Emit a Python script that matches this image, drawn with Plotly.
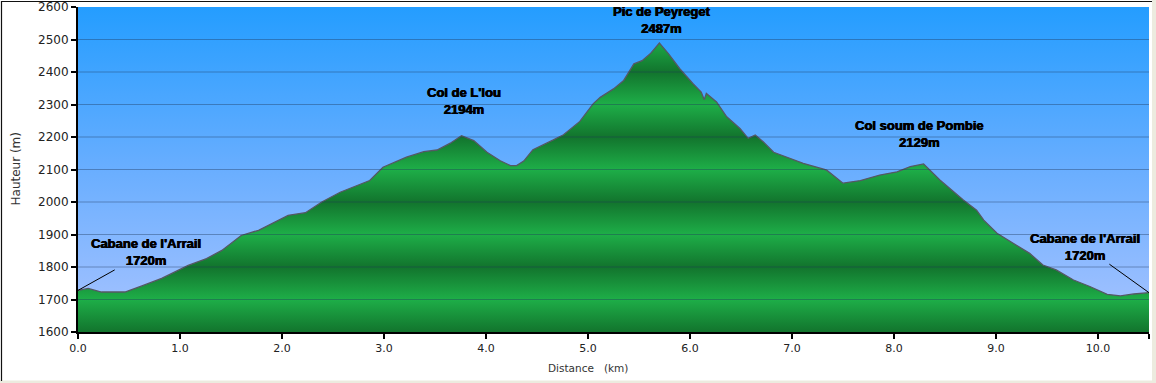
import plotly.graph_objects as go

# ---------------- data ----------------
distance_km = [0.00, 0.10, 0.23, 0.46, 0.62, 0.82, 1.08, 1.26, 1.41, 1.60, 1.77, 1.93,
               2.06, 2.23, 2.39, 2.57, 2.72, 2.86, 2.99, 3.09, 3.22, 3.39, 3.52, 3.65,
               3.76, 3.88, 4.01, 4.14, 4.24, 4.30, 4.37, 4.46, 4.55, 4.66, 4.76, 4.92,
               5.05, 5.12, 5.25, 5.35, 5.45, 5.53, 5.61, 5.70, 5.79, 5.90, 6.03, 6.11,
               6.14, 6.16, 6.26, 6.36, 6.49, 6.57, 6.64, 6.72, 6.82, 6.98, 7.11, 7.31,
               7.34, 7.50, 7.67, 7.86, 8.03, 8.16, 8.29, 8.45, 8.58, 8.68, 8.81, 8.88,
               9.01, 9.17, 9.33, 9.46, 9.59, 9.76, 9.92, 10.09, 10.22, 10.35, 10.50]
altitude_m = [1728, 1734, 1723, 1723, 1741, 1765, 1805, 1826, 1851, 1897, 1913, 1938,
              1959, 1967, 2000, 2030, 2048, 2066, 2107, 2121, 2138, 2155, 2160, 2181,
              2204, 2189, 2153, 2127, 2112, 2112, 2126, 2161, 2174, 2191, 2207, 2248,
              2302, 2322, 2348, 2374, 2425, 2435, 2456, 2489, 2456, 2410, 2364, 2338,
              2315, 2334, 2308, 2262, 2226, 2196, 2206, 2185, 2153, 2135, 2119, 2101,
              2098, 2058, 2066, 2083, 2093, 2109, 2117, 2068, 2032, 2006, 1975, 1944,
              1904, 1873, 1842, 1806, 1791, 1760, 1740, 1716, 1711, 1717, 1721]

x_tick_vals = [0, 1, 2, 3, 4, 5, 6, 7, 8, 9, 10, 10.5]
x_tick_text = ["0.0", "1.0", "2.0", "3.0", "4.0", "5.0", "6.0", "7.0", "8.0", "9.0", "10.0", "10.5"]
y_tick_vals = [1600, 1700, 1800, 1900, 2000, 2100, 2200, 2300, 2400, 2500, 2600]

label_names = ["Cabane de l'Arrail", "Col de L'lou", "Pic de Peyreget", "Col soum de Pombie", "Cabane de l'Arrail"]
label_alts = [1720, 2194, 2487, 2129, 1720]

x_range = [0, 10.5]
y_range = [1600, 2600]

# ---------------- layout geometry ----------------
W, H = 1156, 383
ML, MR, MT, MB = 78, 7, 7, 51

fig = go.Figure()

# sky gradient background
fig.add_trace(go.Scatter(
    x=[x_range[0], x_range[1], x_range[1], x_range[0], x_range[0]],
    y=[y_range[0], y_range[0], y_range[1], y_range[1], y_range[0]],
    fill="toself", mode="none", hoverinfo="skip", showlegend=False,
    fillgradient=dict(type="vertical", start=y_range[0], stop=y_range[1],
                      colorscale=[[0, "rgb(170,196,255)"], [0.5, "rgb(105,174,255)"],
                                  [1, "rgb(36,157,255)"]]),
))

# banded green gradient for the terrain
dark, light = "rgb(18,116,45)", "rgb(30,174,72)"
bands = []
n = len(y_tick_vals) - 1
for i in range(n + 1):
    bands.append([i / n, dark if i % 2 == 0 else light])

fig.add_trace(go.Scatter(
    x=distance_km, y=altitude_m, mode="lines", fill="tozeroy",
    line=dict(color="rgb(85,88,100)", width=1.3),
    fillgradient=dict(type="vertical", start=y_range[0], stop=y_range[1], colorscale=bands),
    hoverinfo="x+y", showlegend=False,
))

shapes = []
# grid lines above the fill
for v in y_tick_vals[1:-1]:
    shapes.append(dict(type="line", xref="paper", yref="y", x0=0, x1=1, y0=v, y1=v,
                       line=dict(color="rgba(30,55,90,0.40)", width=1), layer="above"))

# frame of the picture
def px_to_paper_x(px):
    return (px - ML) / (W - ML - MR)

def py_to_paper_y(py):
    return (H - MB - py) / (H - MT - MB)

shapes.append(dict(type="rect", xref="paper", yref="paper",
                   x0=px_to_paper_x(1152), x1=px_to_paper_x(W + 2),
                   y0=py_to_paper_y(H + 2), y1=py_to_paper_y(-2),
                   fillcolor="#ecebdf", line=dict(width=0), layer="below"))
shapes.append(dict(type="rect", xref="paper", yref="paper",
                   x0=px_to_paper_x(-2), x1=px_to_paper_x(W + 2),
                   y0=py_to_paper_y(H + 2), y1=py_to_paper_y(380.5),
                   fillcolor="#ecebdf", line=dict(width=0), layer="below"))
shapes.append(dict(type="line", xref="paper", yref="paper",
                   x0=px_to_paper_x(1), x1=px_to_paper_x(1152),
                   y0=py_to_paper_y(1.5), y1=py_to_paper_y(1.5),
                   line=dict(color="#111", width=1.2), layer="below"))
shapes.append(dict(type="line", xref="paper", yref="paper",
                   x0=px_to_paper_x(1.5), x1=px_to_paper_x(1.5),
                   y0=py_to_paper_y(1), y1=py_to_paper_y(381),
                   line=dict(color="#111", width=1.2), layer="below"))

lab_font = dict(family="Liberation Sans, Arial, sans-serif", size=13, color="#000",
                shadow="0.5px 0 0 #000, -0.3px 0 0 #000")
annotations = []
# end-point labels with leader lines
annotations.append(dict(x=distance_km[0], y=altitude_m[0], xref="x", yref="y",
                        text=f"<b>{label_names[0]}<br>{label_alts[0]}m</b>",
                        showarrow=True, arrowhead=0, arrowwidth=1, arrowcolor="#000",
                        ax=68, ay=-38, standoff=0, font=lab_font))
annotations.append(dict(x=distance_km[-1], y=altitude_m[-1], xref="x", yref="y",
                        text=f"<b>{label_names[4]}<br>{label_alts[4]}m</b>",
                        showarrow=True, arrowhead=0, arrowwidth=1, arrowcolor="#000",
                        ax=-64, ay=-46, standoff=0, font=lab_font))
# summit / pass labels
for name, alt, (lx, ly) in zip(label_names[1:4], label_alts[1:4],
                              [(3.78, 2312), (5.72, 2560), (8.25, 2208)]):
    annotations.append(dict(x=lx, y=ly, xref="x", yref="y", showarrow=False,
                            text=f"<b>{name}<br>{alt}m</b>", font=lab_font,
                            xanchor="center", yanchor="middle"))

# axis titles
annotations.append(dict(x=px_to_paper_x(15), y=0.5, xref="paper", yref="paper",
                        xanchor="center", yanchor="middle",
                        text="Hauteur (m)", textangle=-90, showarrow=False,
                        font=dict(family="DejaVu Sans", size=12, color="#333")))
annotations.append(dict(x=5.0, y=py_to_paper_y(368), xref="x", yref="paper",
                        xanchor="center", yanchor="middle",
                        text="Distance\u00a0\u00a0\u00a0(km)", showarrow=False,
                        font=dict(family="DejaVu Sans", size=10.5, color="#333")))

fig.update_layout(
    width=W, height=H,
    margin=dict(l=ML, r=MR, t=MT, b=MB, pad=0, autoexpand=False),
    paper_bgcolor="white", plot_bgcolor="rgb(110,176,255)",
    shapes=shapes, annotations=annotations,
    xaxis=dict(range=x_range, tickvals=x_tick_vals, ticktext=x_tick_text,
               showgrid=False, zeroline=False, showline=True, linecolor="#000", linewidth=2,
               ticks="outside", ticklen=5, tickwidth=1.5, tickcolor="#000",
               tickfont=dict(family="DejaVu Sans", size=11, color="#222"),
               layer="above traces", fixedrange=True, automargin=False),
    yaxis=dict(range=y_range, tickvals=y_tick_vals,
               showgrid=False, zeroline=False, showline=True, linecolor="#000", linewidth=2,
               ticks="outside", ticklen=5, tickwidth=1.5, tickcolor="#000",
               tickfont=dict(family="DejaVu Sans", size=12, color="#222"),
               layer="above traces", fixedrange=True, automargin=False),
    showlegend=False,
)

fig.write_html("out.html", config={"responsive": False, "displayModeBar": False},
               post_script="document.body.style.margin='0';document.body.style.overflow='hidden';")
